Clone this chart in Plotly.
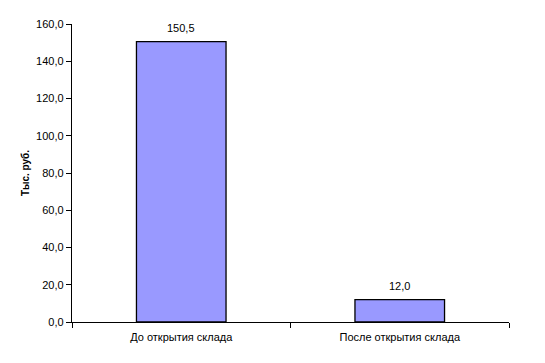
import plotly.graph_objects as go

categories = ["До открытия склада", "После открытия склада"]
values = [150.5, 12.0]
y_ticks = [0, 20, 40, 60, 80, 100, 120, 140, 160]
y_title = "Тыс. руб."

fig = go.Figure(go.Bar(
    x=categories, y=values,
    marker=dict(color="#9999FF", line=dict(color="black", width=1.3)),
    width=0.41,
))
for c, v in zip(categories, values):
    fig.add_annotation(
        x=c, y=v, text=f"{v:.1f}".replace(".", ","), showarrow=False,
        yanchor="bottom", yshift=6,
        font=dict(family="Liberation Sans, Arial", size=11, color="black"),
    )
fig.update_layout(
    width=545, height=363,
    margin=dict(l=72, r=36, t=24, b=41),
    paper_bgcolor="white", plot_bgcolor="white",
    separators=", ",
    font=dict(family="Liberation Sans, Arial", size=11, color="black"),
    showlegend=False,
)
fig.update_yaxes(
    range=[0, 160], tickvals=y_ticks, tickformat=".1f",
    showgrid=False, showline=True, linecolor="black", linewidth=1.3,
    ticks="outside", ticklen=5, tickcolor="black", tickwidth=1,
    title=dict(text="<b>" + y_title + "</b>", font=dict(size=10), standoff=4),
    zeroline=False,
)
fig.update_xaxes(
    showgrid=False, showline=True, linecolor="black", linewidth=1.3,
    ticks="outside", ticklen=5, tickcolor="black", tickson="boundaries",
    ticklabelstandoff=5,
)
fig.write_html("out.html")
